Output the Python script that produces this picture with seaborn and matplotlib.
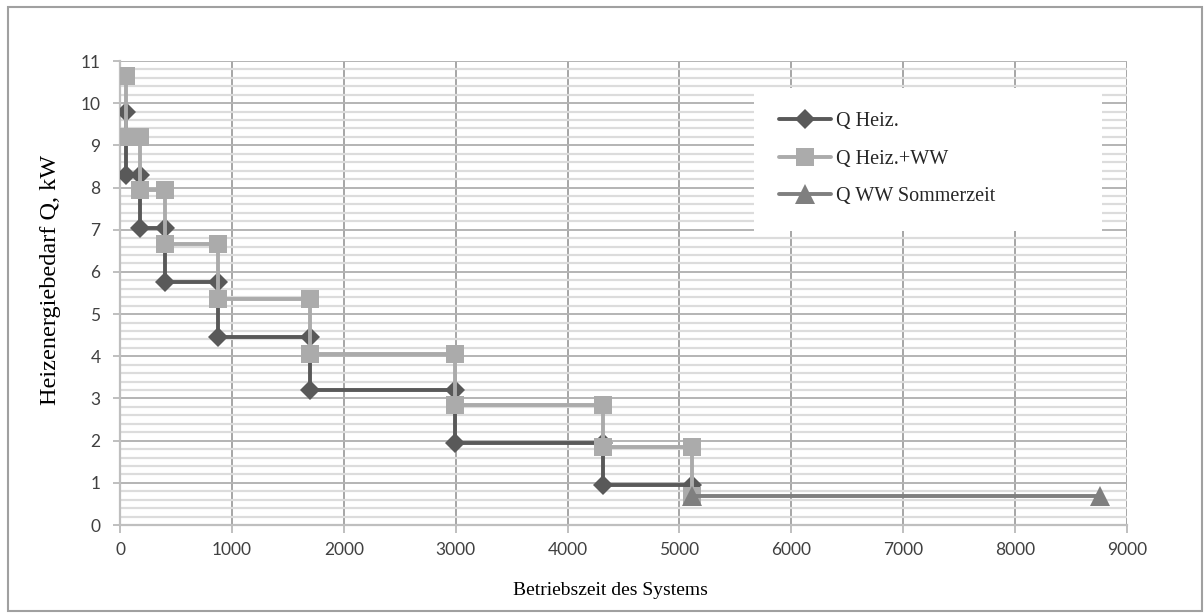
import matplotlib
matplotlib.use("Agg")
import matplotlib.pyplot as plt
import matplotlib.patches as mpatches
from matplotlib.ticker import MultipleLocator
import seaborn as sns
import pandas as pd

# ---- data ----
heiz_x = [50, 50, 175, 175, 400, 400, 880, 880, 1700, 1700, 2990, 2990, 4320, 4320, 5115]
heiz_y = [9.8, 8.3, 8.3, 7.05, 7.05, 5.75, 5.75, 4.45, 4.45, 3.2, 3.2, 1.95, 1.95, 0.95, 0.95]

heizww_x = [50, 50, 175, 175, 400, 400, 880, 880, 1700, 1700, 2990, 2990, 4320, 4320, 5115, 5115]
heizww_y = [10.65, 9.2, 9.2, 7.95, 7.95, 6.65, 6.65, 5.35, 5.35, 4.05, 4.05, 2.85, 2.85, 1.85, 1.85, 0.68]

sommer_x = [5115, 8760]
sommer_y = [0.68, 0.68]

labels = ["Q Heiz.", "Q Heiz.+WW", "Q WW Sommerzeit"]
x_ticks = [0, 1000, 2000, 3000, 4000, 5000, 6000, 7000, 8000, 9000]
y_ticks = list(range(0, 12))

sns.set_style("white")
plt.rcParams['font.family'] = ['Lato', 'DejaVu Sans']

W, H = 1204, 614
fig = plt.figure(figsize=(W / 100, H / 100), dpi=100)
ax = fig.add_axes([120 / W, 1 - 525 / H, (1127 - 120) / W, (525 - 61) / H])

series = [
    (heiz_x, heiz_y, "#595959", "D", 10, labels[0]),
    (heizww_x, heizww_y, "#ababab", "s", 13.5, labels[1]),
    (sommer_x, sommer_y, "#7f7f7f", "^", 14, labels[2]),
]
for i, (xs, ys, col, mk, ms, lab) in enumerate(series):
    df = pd.DataFrame({"x": xs, "y": ys})
    sns.lineplot(data=df, x="x", y="y", sort=False, estimator=None, ax=ax,
                 color=col, marker=mk, markersize=ms, markeredgewidth=0,
                 linewidth=2.8, label=lab, zorder=5 + i)

ax.set_xlim(0, 9000)
ax.set_ylim(0, 11)
ax.set_xticks(x_ticks)
ax.set_yticks(y_ticks)
ax.yaxis.set_minor_locator(MultipleLocator(0.2))

# grid
ax.grid(False)
ax.set_axisbelow(True)
ax.yaxis.grid(True, which="minor", color="#dcdcdc", linewidth=1.6)
ax.yaxis.grid(True, which="major", color="#b4b4b4", linewidth=1.4)
ax.xaxis.grid(True, which="major", color="#a6a6a6", linewidth=1.4)

for s in ["top", "right"]:
    ax.spines[s].set_visible(False)
for s in ["left", "bottom"]:
    ax.spines[s].set_color("#bfbfbf")
    ax.spines[s].set_linewidth(1.6)

ax.tick_params(axis="x", which="major", direction="out", length=6, width=1.4,
               color="#bfbfbf", labelsize=12.5, labelcolor="#404040", pad=6, bottom=True)
ax.tick_params(axis="y", which="major", direction="out", length=5, width=1.4,
               color="#bfbfbf", labelsize=12.5, labelcolor="#404040", pad=9, left=True)
ax.tick_params(axis="y", which="minor", length=0)

ax.set_xlabel("Betriebszeit des Systems", fontsize=14, family="Liberation Serif",
              color="black")
ax.set_ylabel("Heizenergiebedarf Q, kW", fontsize=17.5, family="Liberation Serif",
              color="black")
ax.xaxis.set_label_coords(0.487, -0.122)
ax.yaxis.set_label_coords(-0.059, 0.528)

leg = ax.legend(loc="upper left", bbox_to_anchor=(0.63, 0.662, 0.345, 0.28), mode="expand",
                frameon=True, fancybox=False, framealpha=1, facecolor="white",
                edgecolor="white", prop={"family": "Liberation Serif", "size": 14.5},
                handlelength=2.6, labelspacing=0.92, borderpad=1.2,
                handletextpad=0.25, borderaxespad=0)
leg.get_frame().set_linewidth(0)
leg.set_zorder(20)

# outer chart border
fig.patches.append(mpatches.Rectangle((8 / W, 1 - 611 / H), (1202 - 8) / W, (611 - 7) / H,
                                      transform=fig.transFigure, fill=False,
                                      edgecolor="#a0a0a0", linewidth=1.5))

fig.savefig("out.png", dpi=100)
